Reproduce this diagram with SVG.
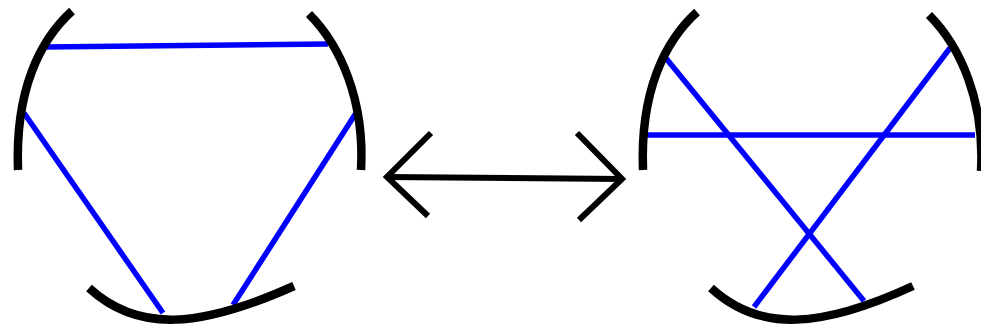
<svg xmlns="http://www.w3.org/2000/svg" width="981" height="327" viewBox="0 0 981 327">
<style>
.mirror{fill:none;stroke:#000;stroke-width:8.5;stroke-linecap:butt}
.beam{fill:none;stroke:#0000ff;stroke-width:5.5;stroke-linecap:butt}
.arrow{fill:none;stroke:#000;stroke-width:6;stroke-linecap:butt;stroke-linejoin:miter}
</style>
<rect width="981" height="327" fill="#fff"/>
<g id="cavity-left">
<path class="beam" d="M45,47 L328,44"/>
<path class="beam" d="M24,113 L163,313"/>
<path class="beam" d="M356,113 L233,305"/>
<path class="mirror" d="M72,11 C40,40 15,90 18,170"/>
<path class="mirror" d="M309,14 C340,45 365,100 361,170"/>
<path class="mirror" d="M89,288 C138,333 200,328 294,286"/>
</g>
<g id="cavity-right">
<path class="beam" d="M646,135 L975,135"/>
<path class="beam" d="M665,57 L864,301"/>
<path class="beam" d="M950,48 L754,307"/>
<path class="mirror" d="M697,12 C665,41 640,91 643,170"/>
<path class="mirror" d="M929,15 C960,46 985,101 981,171"/>
<path class="mirror" d="M711,288 C760,333 822,328 913,286"/>
</g>
<g id="connectors">
<path class="arrow" d="M386,177 L623,179"/>
<path class="arrow" d="M431,133 L387,177 L428,216"/>
<path class="arrow" d="M577,133 L622,179 L579,220"/>
</g>
</svg>
